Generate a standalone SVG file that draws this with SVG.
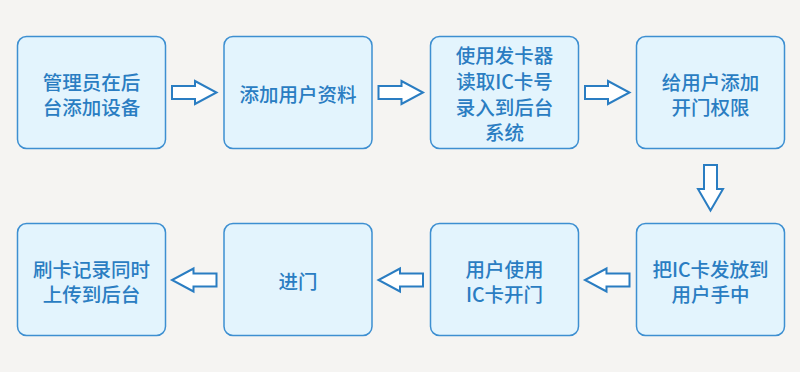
<svg xmlns="http://www.w3.org/2000/svg" width="800" height="372" viewBox="0 0 800 372">
<style>
.box{fill:#e3f4fd;stroke:#3d8fd1;stroke-width:1.5}
.t{font-family:"Noto Sans CJK SC","Noto Sans",sans-serif;font-size:19.5px;font-weight:500;fill:#2a7dc2;text-anchor:middle;dominant-baseline:central}
.arr{fill:#ffffff;stroke:#2a7dc2;stroke-width:2;stroke-linejoin:miter}
</style>
<rect width="800" height="372" fill="#f5f4f2"/>
<g id="n1"><rect class="box" x="17.5" y="36.5" width="148" height="112" rx="9"/><text class="t" x="91.5" y="81">管理员在后</text><text class="t" x="91.5" y="106">台添加设备</text></g>
<g id="n2"><rect class="box" x="224" y="36.5" width="148" height="112" rx="9"/><text class="t" x="298" y="93">添加用户资料</text></g>
<g id="n3"><rect class="box" x="430.5" y="36.5" width="148" height="112" rx="9"/><text class="t" x="504.5" y="54">使用发卡器</text><text class="t" x="504.5" y="80">读取IC卡号</text><text class="t" x="504.5" y="106">录入到后台</text><text class="t" x="504.5" y="131">系统</text></g>
<g id="n4"><rect class="box" x="636.5" y="36.5" width="148" height="112" rx="9"/><text class="t" x="710.5" y="81">给用户添加</text><text class="t" x="710.5" y="106">开门权限</text></g>
<g id="n5"><rect class="box" x="636.5" y="223.5" width="148" height="112" rx="9"/><text class="t" x="710.5" y="268">把IC卡发放到</text><text class="t" x="710.5" y="293">用户手中</text></g>
<g id="n6"><rect class="box" x="430.5" y="223.5" width="148" height="112" rx="9"/><text class="t" x="504.5" y="268">用户使用</text><text class="t" x="504.5" y="293">IC卡开门</text></g>
<g id="n7"><rect class="box" x="224" y="223.5" width="148" height="112" rx="9"/><text class="t" x="298" y="280">进门</text></g>
<g id="n8"><rect class="box" x="17.5" y="223.5" width="148" height="112" rx="9"/><text class="t" x="91.5" y="268">刷卡记录同时</text><text class="t" x="91.5" y="293">上传到后台</text></g>
<g id="connectors">
<path class="arr" d="M172,86 H195 V81 L216.5,92.5 L195,104 V99 H172 Z"/>
<path class="arr" d="M378.5,86 H401.5 V81 L423,92.5 L401.5,104 V99 H378.5 Z"/>
<path class="arr" d="M585,86 H608 V81 L629.5,92.5 L608,104 V99 H585 Z"/>
<path class="arr" d="M704,165 V189 H698 L710.5,210.5 L723,189 H717 V165 Z"/>
<path class="arr" d="M629.5,273.5 H606.5 V268.5 L585,280 L606.5,291.5 V286.5 H629.5 Z"/>
<path class="arr" d="M423,273.5 H400 V268.5 L378.5,280 L400,291.5 V286.5 H423 Z"/>
<path class="arr" d="M216.5,273.5 H193.5 V268.5 L172,280 L193.5,291.5 V286.5 H216.5 Z"/>
</g>
</svg>
